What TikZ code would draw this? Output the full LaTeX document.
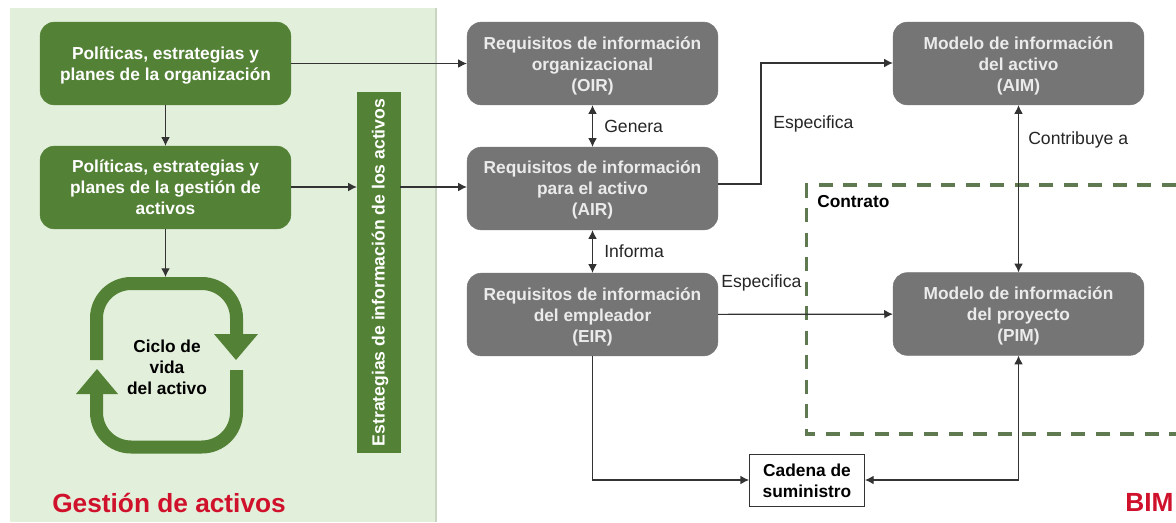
\documentclass[tikz,border=0pt]{standalone}
\usepackage{fontspec}
\setmainfont{Liberation Sans}
\usetikzlibrary{arrows.meta}
\definecolor{panelg}{HTML}{E2EFDA}
\definecolor{panele}{HTML}{C9D5C2}
\definecolor{darkg}{HTML}{538135}
\definecolor{boxgr}{HTML}{757575}
\definecolor{dashg}{HTML}{5F7A50}
\definecolor{redt}{HTML}{D0112B}
\newcommand{\lowtext}[2]{\raisebox{-#1pt}[\height][\depth]{\begin{tabular}{@{}c@{}}#2\end{tabular}}}
\tikzset{
 x=0.75pt,y=-0.75pt,
 base/.style={align=center,font=\bfseries\fontsize{13pt}{15.9pt}\selectfont,inner sep=0pt,anchor=center},
 gbox/.style={base,draw=darkg,fill=darkg,text=white,rounded corners=10.5pt,minimum width=188pt,minimum height=62pt},
 gybox/.style={base,draw=boxgr,fill=boxgr,text=white!92!black,rounded corners=10.5pt,minimum width=188pt,minimum height=62pt},
 conn/.style={draw=black!80,line width=0.9pt,-{Latex[length=6.5pt,width=6.5pt]}},
 conn2/.style={draw=black!80,line width=0.9pt,{Latex[length=6.5pt,width=6.5pt]}-{Latex[length=6.5pt,width=6.5pt]}},
 lab/.style={font=\fontsize{13.2pt}{15pt}\selectfont,inner sep=0pt,text=black!85},
 cyc/.style={draw=darkg,line width=9.75pt,rounded corners=26pt},
 tip/.style={fill=darkg,draw=none},
 big/.style={font=\bfseries\fontsize{19.7pt}{22pt}\selectfont,text=redt,inner sep=0pt},
}
\begin{document}
\begin{tikzpicture}
\useasboundingbox (0,0) rectangle (1176,522);
\fill[white] (0,0) rectangle (1176,522);
\fill[panelg] (10,8) rectangle (436,522);
\draw[panele,line width=0.8pt] (436,8) -- (436,522);
% cycle
\draw[cyc] (96.5,360) -- (96.5,283.5) -- (236.5,283.5) -- (236.5,340);
\draw[cyc] (236.5,370) -- (236.5,447) -- (96.5,447) -- (96.5,390);
\fill[tip] (214,334) -- (258,334) -- (236,360) -- cycle;
\fill[tip] (76,394) -- (118,394) -- (97,369) -- cycle;
\coordinate (looptop) at (165.5,277);
\node[base,text=black] (ciclo) at (167,367) {Ciclo de\\vida\\del activo};
% boxes
\node[gbox] (g1) at (165.5,63.5) {\lowtext{1.9}{Políticas, estrategias y\\planes de la organización}};
\node[gbox] (g2) at (165.5,187.5) {\lowtext{1.1}{Políticas, estrategias y\\planes de la gestión de\\activos}};
\node[gybox] (oir) at (592.5,63.5) {\lowtext{1.9}{Requisitos de información\\organizacional\\(OIR)}};
\node[gybox] (air) at (592.5,188.5) {\lowtext{1.1}{Requisitos de información\\para el activo\\(AIR)}};
\node[gybox] (eir) at (592.5,314.5) {\lowtext{1.9}{Requisitos de información\\del empleador\\(EIR)}};
\node[gybox] (aim) at (1018.5,63.5) {\lowtext{1.9}{Modelo de información\\del activo\\(AIM)}};
\node[gybox] (pim) at (1018.5,314) {\lowtext{1.9}{Modelo de información\\del proyecto\\(PIM)}};
\node[base,draw=darkg,fill=darkg,text=white,minimum width=270pt,minimum height=32pt,rotate=90,font=\bfseries\fontsize{13.2pt}{15.9pt}\selectfont] (bar) at (378.5,272.5) {\lowtext{1.4}{Estrategias de información de los activos}};
\node[base,draw=black!80,line width=0.9pt,fill=white,text=black,minimum width=86pt,minimum height=39pt] (cad) at (807,480.5) {Cadena de\\suministro};
% contract
\draw[dashg,line width=2.5pt,dash pattern=on 10.5pt off 7.9pt] (1176,185) -- (806.5,185) -- (806.5,434) -- (1176,434);
\node[base,anchor=west,text=black] (contrato) at (817,202) {Contrato};
% connectors
\draw[conn] (g1.east |- 0,63.5) -- (oir.west |- 0,63.5);
\draw[conn] (g1) -- (g2);
\draw[conn] (g2.east |- 0,187) -- (bar.north |- 0,187);
\draw[conn] (bar.south |- 0,187) -- (air.west |- 0,187);
\draw[conn] (g2) -- (looptop);
\draw[conn2] (oir) -- (air);
\draw[conn2] (air) -- (eir);
\draw[conn] (air.east |- 0,184) -- (761,184) -- (761,63) -- (aim.west |- 0,63);
\draw[conn] (eir) -- (pim);
\draw[conn2] (aim) -- (pim);
\draw[conn] (eir) -- (592.5,480) -- (cad.west |- 0,480);
\draw[conn2] (cad.east |- 0,480) -- (1018.5,480) -- (pim);
% labels
\node[lab,anchor=west] (l1) at (604,126) {Genera};
\node[lab,anchor=west] (l2) at (604,251) {Informa};
\node[lab,anchor=west] (l3) at (773,124) {Especifica};
\node[lab,anchor=west] (l4) at (721,283) {Especifica};
\node[lab,anchor=west] (l5) at (1028,140) {Contribuye a};
\node[big,anchor=west] (ga) at (52,503) {Gestión de activos};
\node[big,anchor=west] (bim) at (1125,502) {BIM};
\end{tikzpicture}
\end{document}
